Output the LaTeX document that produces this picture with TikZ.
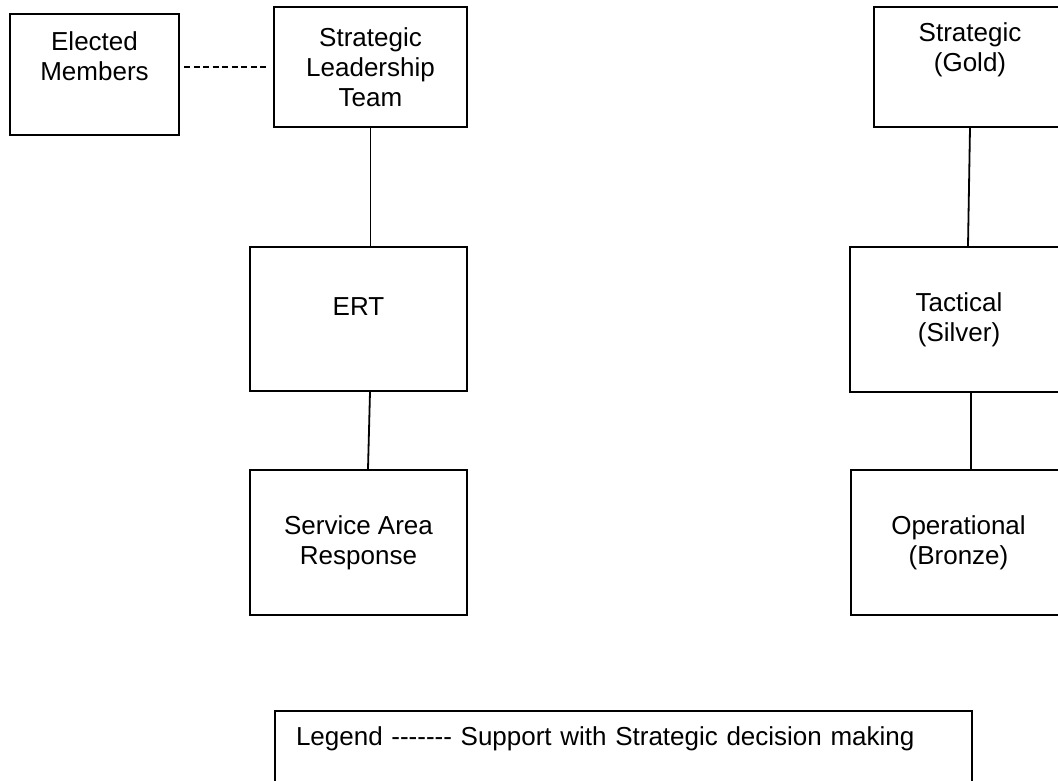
\documentclass[tikz,border=0pt]{standalone}
\usepackage{fontspec}
\setmainfont{Liberation Sans}
\usepackage{tikz}
\usetikzlibrary{positioning,calc}
\usepackage{xcolor}
\definecolor{InkK}{RGB}{0,0,0}

\begin{document}
\begin{tikzpicture}[x=1pt,y=-1pt,
    box/.style={draw=InkK,line width=2pt,align=center,inner sep=0pt,
      font=\fontsize{26}{30}\selectfont},
    link/.style={draw=InkK,line width=1.8pt},
    dashlink/.style={link,dash pattern=on 6pt off 3.5pt}]
  \useasboundingbox (0,0) rectangle (1058,781);
  \clip (0,0) rectangle (1058,781);
  % response structure
  \node[box,minimum width=169pt,minimum height=121pt,text depth=36pt] (elected) at (94.5,74.5) {Elected\\Members};
  \node[box,minimum width=193pt,minimum height=120pt] (slt) at (370.5,67) {Strategic\\Leadership\\Team};
  \node[box,minimum width=217pt,minimum height=144pt,text depth=24pt] (ert) at (358.5,319) {ERT};
  \node[box,minimum width=217pt,minimum height=145pt] (sar) at (358.5,542.5) {Service Area\\Response};
  % command levels
  \node[box,minimum width=192pt,minimum height=120pt,text depth=40pt] (gold) at (970,67) {Strategic\\(Gold)};
  \node[box,minimum width=218pt,minimum height=145pt] (tactical) at (959,319.5) {Tactical\\(Silver)};
  \node[box,minimum width=215pt,minimum height=145pt] (operational) at (958.5,542.5) {Operational\\(Bronze)};
  \node[box,anchor=north west,text width=655pt,align=left,inner xsep=21pt,inner ysep=16pt,text depth=50pt] (legend) at (274,710)
    {Legend -{}-{}-{}-{}-{}-{}- Support with Strategic decision making};

  \draw[dashlink] ($(elected.east |- slt.west)+(4,0)$) -- ($(slt.west)+(-6,0)$);
  \draw[link] (slt.south) -- (slt.south |- ert.north);
  \draw[link] ($(ert.south)+(11.5,0)$) -- ($(sar.north)+(9.5,0)$);
  \draw[link] (gold.south) -- ($(tactical.north)+(9,0)$);
  \draw[link] ($(tactical.south)+(12,0)$) -- ($(operational.north)+(12.5,0)$);
\end{tikzpicture}
\end{document}
